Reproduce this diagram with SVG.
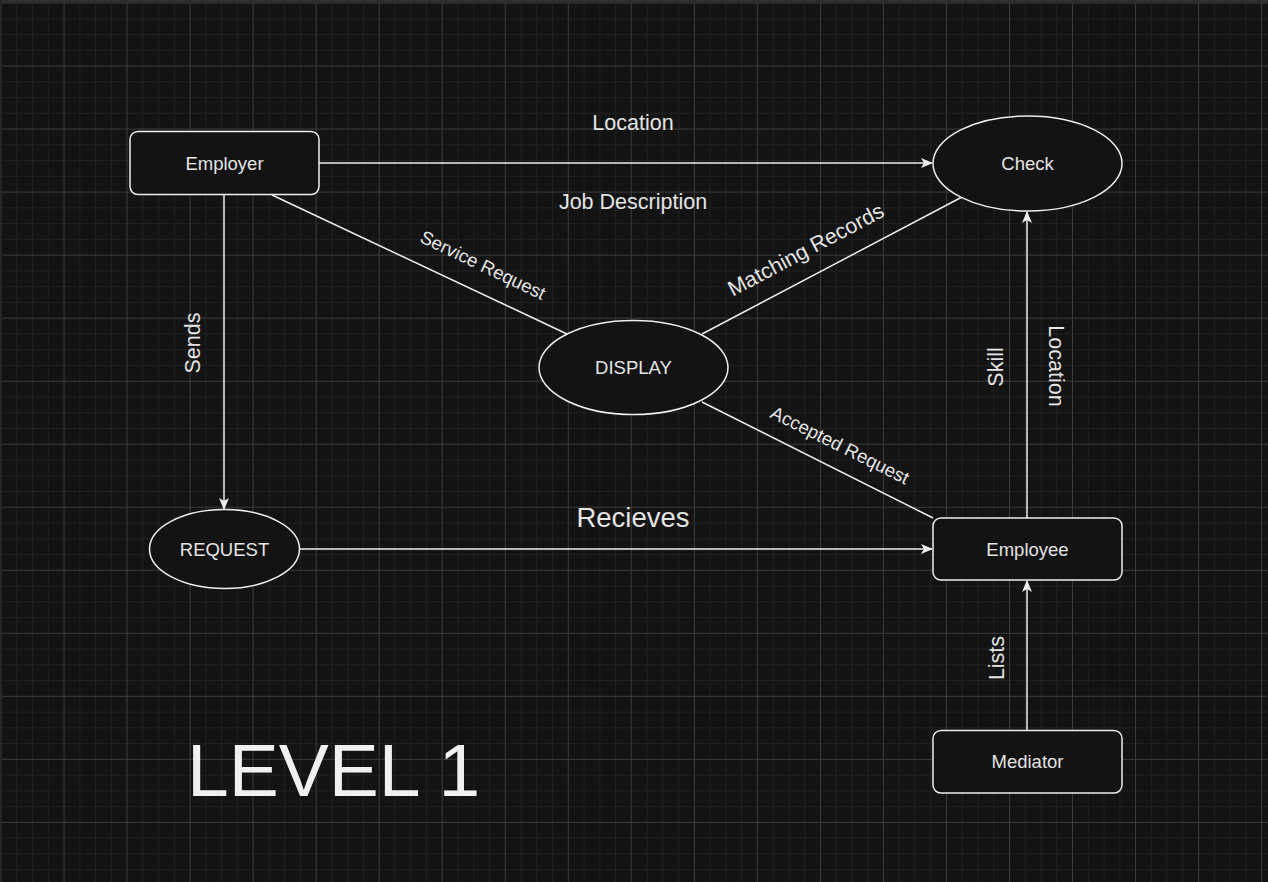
<svg xmlns="http://www.w3.org/2000/svg" width="1268" height="882" viewBox="0 0 1268 882">
<style>
.node{fill:#131313;stroke:#eeeeee;stroke-width:1.5}
.edge{fill:none;stroke:#eeeeee;stroke-width:1.5}
.t{font-family:"Liberation Sans",Arial,sans-serif;fill:#e4e4e4;text-anchor:middle;dominant-baseline:central}
.n{font-size:18.5px}
.l{font-size:21.5px}
.s{font-size:18.6px}
</style>
<defs>
<pattern id="grid" width="63.03" height="63.03" patternUnits="userSpaceOnUse" x="0.5" y="2.5">
<rect x="0" y="0" width="63.03" height="63.03" fill="#131313"/>
<g fill="#202020">
<rect x="15.76" y="0" width="1" height="63.03"/>
<rect x="31.52" y="0" width="1" height="63.03"/>
<rect x="47.27" y="0" width="1" height="63.03"/>
<rect x="0" y="15.76" width="63.03" height="1"/>
<rect x="0" y="31.52" width="63.03" height="1"/>
<rect x="0" y="47.27" width="63.03" height="1"/>
</g>
<g fill="#3b3b3b">
<rect x="0" y="0" width="1" height="63.03"/>
<rect x="0" y="0" width="63.03" height="1"/>
</g>
</pattern>
<marker id="arr" viewBox="0 0 12 10" refX="11" refY="5" markerWidth="12" markerHeight="10" markerUnits="userSpaceOnUse" orient="auto">
<path d="M0,0 L12,5 L0,10 L3,5 z" fill="#eeeeee"/>
</marker>
</defs>
<rect width="1268" height="882" fill="url(#grid)"/>
<rect x="0" y="0" width="1268" height="3" fill="#2e2e2e"/>
<rect x="0" y="0" width="2" height="882" fill="#262626"/>

<g id="connectors">
<path class="edge" d="M319,163 L932,163" marker-end="url(#arr)"/>
<path class="edge" d="M224,195 L224,509" marker-end="url(#arr)"/>
<path class="edge" d="M300,549 L932,549" marker-end="url(#arr)"/>
<path class="edge" d="M272,195 L567,334"/>
<path class="edge" d="M702,334 L962,197"/>
<path class="edge" d="M702,402 L933,518"/>
<path class="edge" d="M1027,518 L1027,212" marker-end="url(#arr)"/>
<path class="edge" d="M1027,730 L1027,581" marker-end="url(#arr)"/>
<text class="t l" x="633" y="123">Location</text>
<text class="t l" x="633" y="202">Job Description</text>
<text class="t" style="font-size:27.5px" x="633" y="517">Recieves</text>
<text class="t s" transform="translate(483,265) rotate(25.5)">Service Request</text>
<text class="t l" transform="translate(806,250) rotate(-28)">Matching Records</text>
<text class="t s" transform="translate(840,445) rotate(26.5)">Accepted Request</text>
<text class="t l" transform="translate(193,343) rotate(-90)">Sends</text>
<text class="t l" transform="translate(996,367) rotate(-90)">Skill</text>
<text class="t l" transform="translate(1056,366) rotate(90)">Location</text>
<text class="t l" transform="translate(997,658) rotate(-90)">Lists</text>
</g>

<g id="employer">
<rect class="node" x="130" y="131.5" width="189" height="63" rx="8"/>
<text class="t n" x="224.5" y="163">Employer</text>
</g>
<g id="check">
<ellipse class="node" cx="1027.5" cy="163.5" rx="94.5" ry="47.5"/>
<text class="t n" x="1027.5" y="163">Check</text>
</g>
<g id="display">
<ellipse class="node" cx="633.5" cy="367.5" rx="94.5" ry="47"/>
<text class="t n" x="633.5" y="367">DISPLAY</text>
</g>
<g id="request">
<ellipse class="node" cx="224.5" cy="549" rx="75" ry="39.5"/>
<text class="t n" x="224.5" y="549">REQUEST</text>
</g>
<g id="employee">
<rect class="node" x="933" y="518" width="189" height="62" rx="8"/>
<text class="t n" x="1027.5" y="549">Employee</text>
</g>
<g id="mediator">
<rect class="node" x="933" y="730.5" width="189" height="62.5" rx="8"/>
<text class="t n" x="1027.5" y="761">Mediator</text>
</g>
<g id="title">
<text x="187" y="796" style="font-family:'Liberation Sans',Arial,sans-serif;font-size:75px;fill:#f0f0f0">LEVEL 1</text>
</g>
</svg>
